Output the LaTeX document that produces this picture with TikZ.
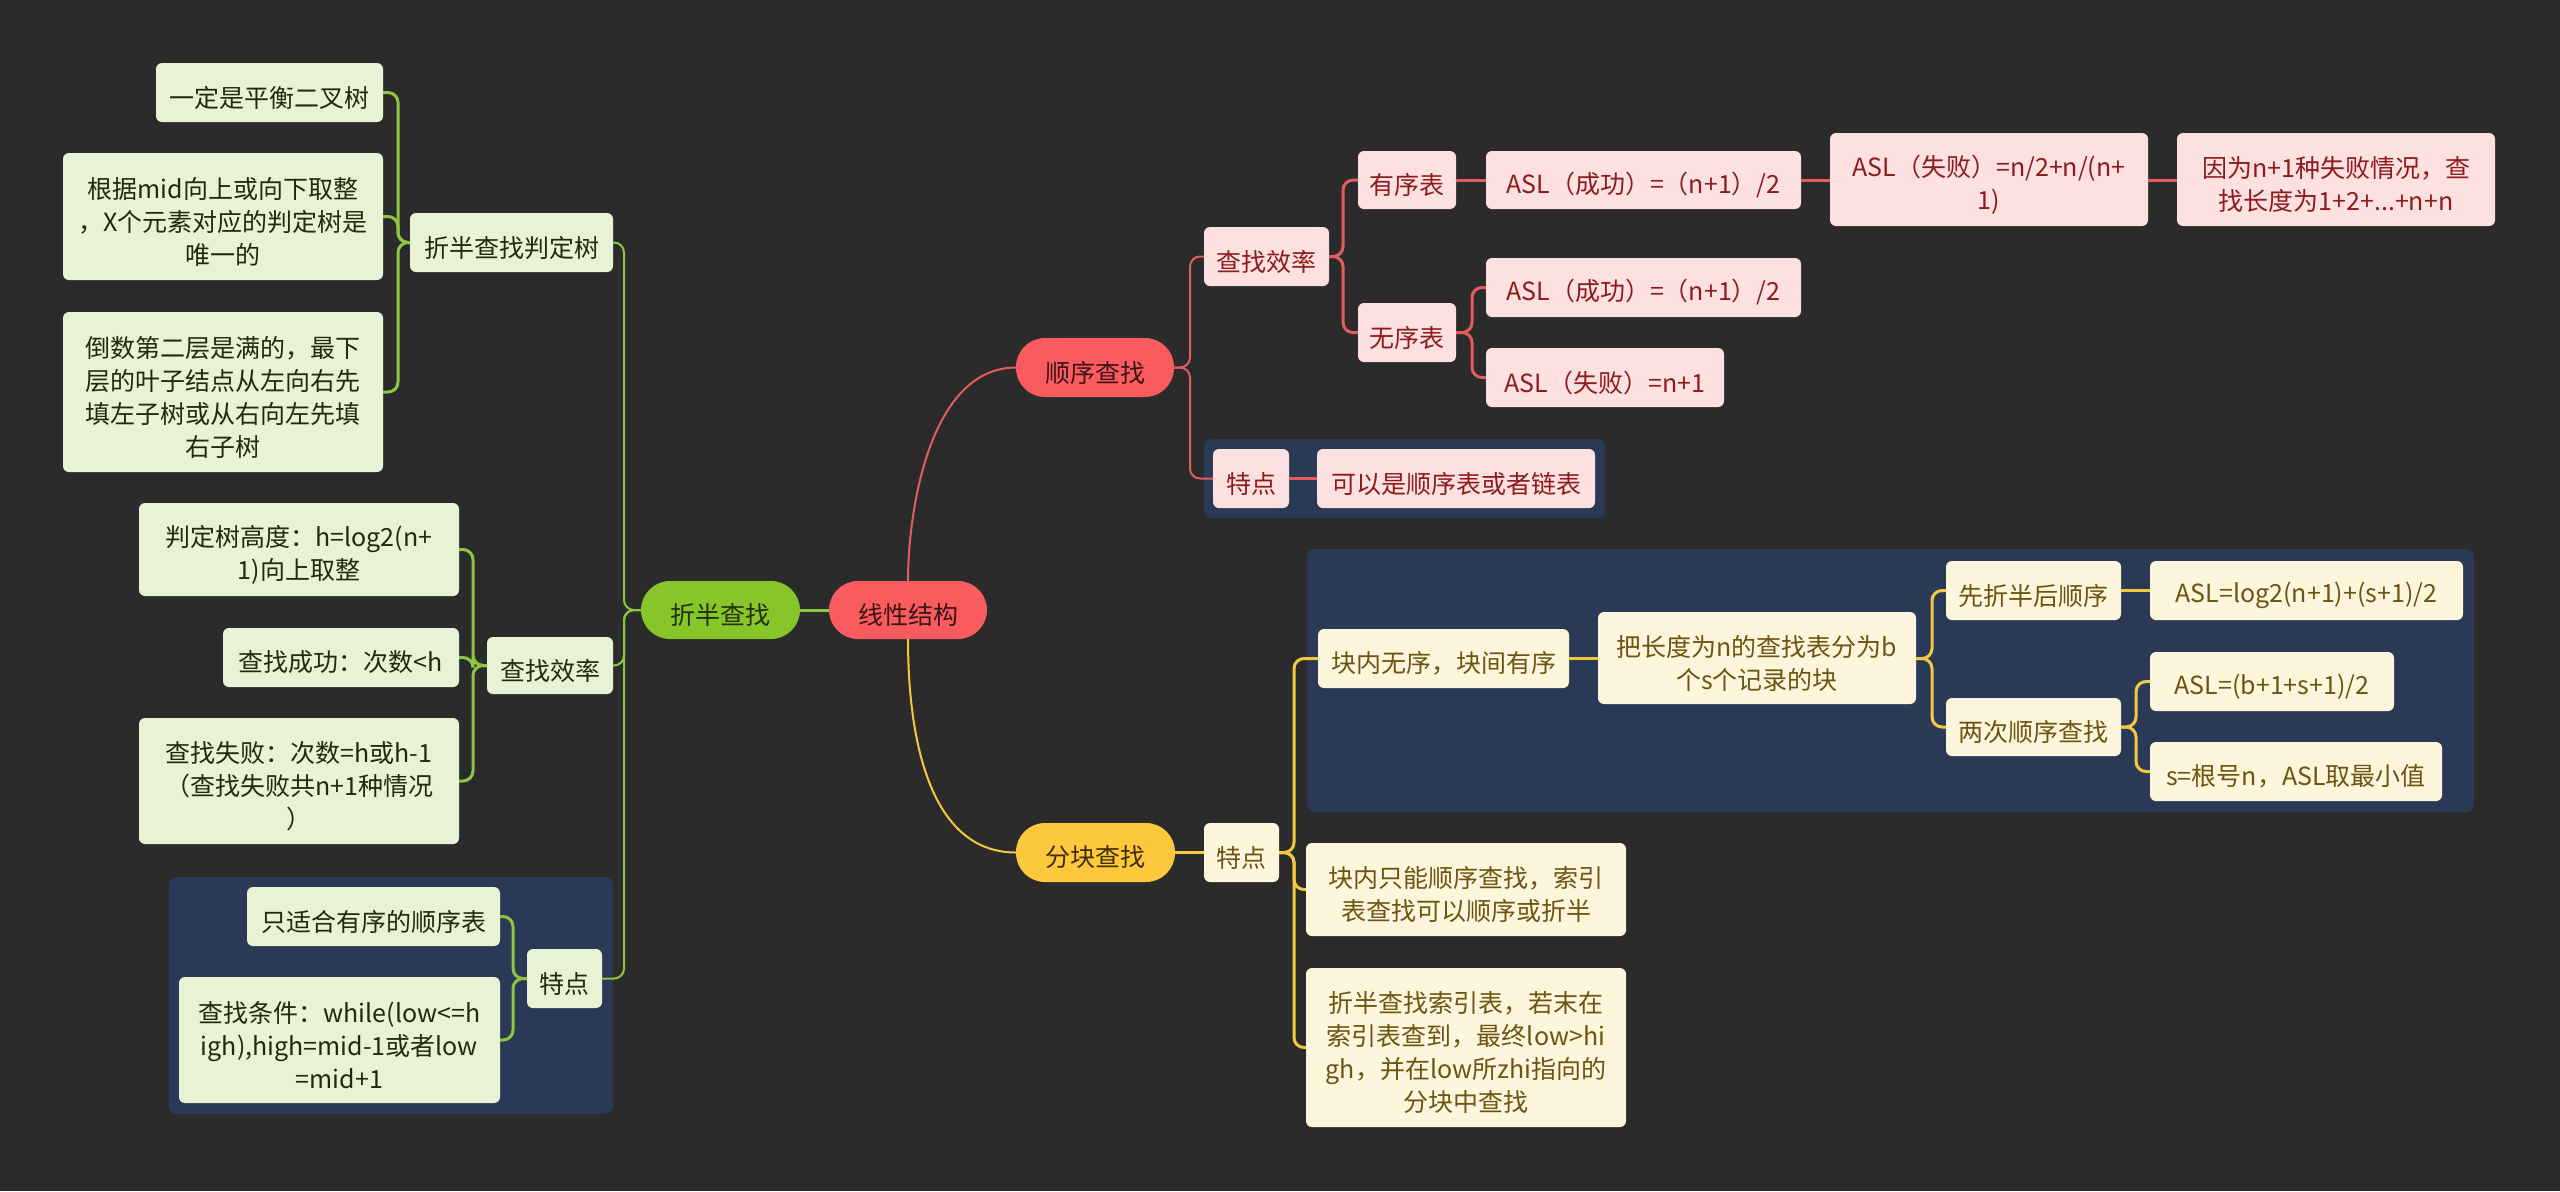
\documentclass[tikz,border=0pt]{standalone}
\usepackage{fontspec}
\setmainfont{Noto Sans CJK SC}
\usetikzlibrary{fit}
\definecolor{bg}{HTML}{2B2B2B}
\definecolor{navy}{HTML}{2A3A56}
\definecolor{redpill}{HTML}{FA5B5E}
\definecolor{redpilltxt}{HTML}{3D1414}
\definecolor{greenpill}{HTML}{86C62B}
\definecolor{greenpilltxt}{HTML}{22310A}
\definecolor{yellowpill}{HTML}{FDC83C}
\definecolor{yellowpilltxt}{HTML}{3D2E08}
\definecolor{pinkbox}{HTML}{FDE1E1}
\definecolor{redtxt}{HTML}{8E1B1B}
\definecolor{greenbox}{HTML}{E8F3D6}
\definecolor{greentxt}{HTML}{1E2B0E}
\definecolor{creambox}{HTML}{FEF6DC}
\definecolor{yellowtxt}{HTML}{6C5411}
\definecolor{redline}{HTML}{E45C5C}
\definecolor{greenline}{HTML}{8DC63F}
\definecolor{yellowline}{HTML}{F5C842}
\newcommand\fs{\fontsize{12.5pt}{16.5pt}\selectfont}
\tikzset{
  bx/.style={rounded corners=3pt, inner sep=0pt, outer sep=0pt, align=center, font=\fs},
  rb/.style={bx, fill=pinkbox, text=redtxt},
  gb/.style={bx, fill=greenbox, text=greentxt},
  yb/.style={bx, fill=creambox, text=yellowtxt},
  rp/.style={bx, rounded corners=14.5pt, fill=redpill, text=redpilltxt},
  gp/.style={bx, rounded corners=14.5pt, fill=greenpill, text=greenpilltxt},
  yp/.style={bx, rounded corners=14.5pt, fill=yellowpill, text=yellowpilltxt},
  txt/.style={fill=none, draw=none},
  grp/.style={fill=navy, rounded corners=4pt},
  rl/.style={draw=redline, line width=1.5pt, rounded corners=5pt},
  gl/.style={draw=greenline, line width=1.5pt, rounded corners=5pt},
  yl/.style={draw=yellowline, line width=1.5pt, rounded corners=5pt},
}
% style, name, corner, corner, text
\newcommand\mmbox[5]{%
  \node[#1, fit={#3 #4}] (#2) {};
  \node[#1, txt] (#2t) at ([yshift=-2.5pt]#2.center) {#5};}
\begin{document}
\begin{tikzpicture}[x=0.5pt,y=-0.5pt]
\fill[bg] (0,0) rectangle (2560,1191);
\useasboundingbox (0,0) rectangle (2560,1191);

% groups
\fill[grp] (169,877) rectangle (613,1114);
\fill[grp] (1204,439) rectangle (1605,518);
\fill[grp] (1307,549) rectangle (2474,812);

% central nodes
\mmbox{rp}{root}{(829,581)}{(987,639)}{线性结构}
\mmbox{gp}{zb}{(641,581)}{(800,639)}{折半查找}
\mmbox{rp}{sx}{(1016,338)}{(1174,397)}{顺序查找}
\mmbox{yp}{fk}{(1016,823)}{(1175,882)}{分块查找}

% left (green)
\mmbox{gb}{pd}{(410,213)}{(613,272)}{折半查找判定树}
\mmbox{gb}{pd1}{(156,63)}{(383,122)}{一定是平衡二叉树}
\mmbox{gb}{pd2}{(63,153)}{(383,280)}{根据mid向上或向下取整\\，X个元素对应的判定树是\\唯一的}
\mmbox{gb}{pd3}{(63,312)}{(383,472)}{倒数第二层是满的，最下\\层的叶子结点从左向右先\\填左子树或从右向左先填\\右子树}
\mmbox{gb}{lx}{(487,637)}{(613,694)}{查找效率}
\mmbox{gb}{lx1}{(139,503)}{(459,596)}{判定树高度：h=log2(n+\\1)向上取整}
\mmbox{gb}{lx2}{(223,628)}{(459,687)}{查找成功：次数<h}
\mmbox{gb}{lx3}{(139,718)}{(459,844)}{查找失败：次数=h或h-1\\（查找失败共n+1种情况\\）}
\mmbox{gb}{lt}{(527,949)}{(602,1008)}{特点}
\mmbox{gb}{lt1}{(247,887)}{(500,946)}{只适合有序的顺序表}
\mmbox{gb}{lt2}{(179,977)}{(500,1103)}{查找条件：while(low<=h\\igh),high=mid-1或者low\\=mid+1}

% right (red)
\mmbox{rb}{rx}{(1204,227)}{(1329,286)}{查找效率}
\mmbox{rb}{yx}{(1358,151)}{(1456,209)}{有序表}
\mmbox{rb}{yx1}{(1486,151)}{(1801,209)}{ASL（成功）=（n+1）/2}
\mmbox{rb}{yx2}{(1830,133)}{(2148,226)}{ASL（失败）=n/2+n/(n+\\1)}
\mmbox{rb}{yx3}{(2177,133)}{(2495,226)}{因为n+1种失败情况，查\\找长度为1+2+...+n+n}
\mmbox{rb}{wx}{(1358,303)}{(1456,362)}{无序表}
\mmbox{rb}{wx1}{(1486,258)}{(1801,317)}{ASL（成功）=（n+1）/2}
\mmbox{rb}{wx2}{(1486,348)}{(1724,407)}{ASL（失败）=n+1}
\mmbox{rb}{rt}{(1213,449)}{(1289,508)}{特点}
\mmbox{rb}{rt1}{(1317,449)}{(1595,508)}{可以是顺序表或者链表}

% right (yellow)
\mmbox{yb}{ft}{(1204,823)}{(1279,882)}{特点}
\mmbox{yb}{f1}{(1318,629)}{(1569,688)}{块内无序，块间有序}
\mmbox{yb}{f11}{(1598,612)}{(1916,704)}{把长度为n的查找表分为b\\个s个记录的块}
\mmbox{yb}{f111}{(1946,561)}{(2121,620)}{先折半后顺序}
\mmbox{yb}{f1111}{(2150,561)}{(2463,620)}{ASL=log2(n+1)+(s+1)/2}
\mmbox{yb}{f112}{(1946,698)}{(2121,756)}{两次顺序查找}
\mmbox{yb}{f1121}{(2150,652)}{(2394,711)}{ASL=(b+1+s+1)/2}
\mmbox{yb}{f1122}{(2150,742)}{(2442,801)}{s=根号n，ASL取最小值}
\mmbox{yb}{f2}{(1306,843)}{(1626,936)}{块内只能顺序查找，索引\\表查找可以顺序或折半}
\mmbox{yb}{f3}{(1306,968)}{(1626,1127)}{折半查找索引表，若末在\\索引表查到，最终low>hi\\gh，并在low所zhi指向的\\分块中查找}

% connectors
\draw[redline, line width=1pt] (root.north) .. controls (908,510) and (930,367.5) .. (sx.west);
\draw[yellowline, line width=1pt] (root.south) .. controls (908,740) and (930,852.5) .. (fk.west);
\draw[gl] (root.west) -- (zb.east);

\draw[gl, line width=1pt] (zb.west) -- (624,610) |- (pd.east);
\draw[gl, line width=1pt] (zb.west) -- (624,610) |- (lx.east);
\draw[gl, line width=1pt] (zb.west) -- (624,610) |- (lt.east);
\draw[gl] (pd.west) -- (398,242.5) |- (pd1.east);
\draw[gl] (pd.west) -- (398,242.5) |- (pd2.east);
\draw[gl] (pd.west) -- (398,242.5) |- (pd3.east);
\draw[gl] (lx.west) -- (473,665.5) |- (lx1.east);
\draw[gl] (lx.west) -- (473,665.5) |- (lx2.east);
\draw[gl] (lx.west) -- (473,665.5) |- (lx3.east);
\draw[gl] (lt.west) -- (513,978.5) |- (lt1.east);
\draw[gl] (lt.west) -- (513,978.5) |- (lt2.east);

\draw[rl, line width=1pt] (sx.east) -- (1190,367.5) |- (rx.west);
\draw[rl, line width=1pt] (sx.east) -- (1190,367.5) |- (rt.west);
\draw[rl] (rx.east) -- (1343,256.5) |- (yx.west);
\draw[rl] (rx.east) -- (1343,256.5) |- (wx.west);
\draw[rl] (yx.east) -- (yx1.west);
\draw[rl] (yx1.east) -- (yx2.west |- yx1.west);
\draw[rl] (yx2.east |- yx1.east) -- (yx3.west |- yx1.east);
\draw[rl] (wx.east) -- (1472,332.5) |- (wx1.west);
\draw[rl] (wx.east) -- (1472,332.5) |- (wx2.west);
\draw[rl] (rt.east) -- (rt1.west);

\draw[yl] (fk.east) -- (ft.west);
\draw[yl] (ft.east) -- (1294,852.5) |- (f1.west);
\draw[yl] (ft.east) -- (1294,852.5) |- (f2.west);
\draw[yl] (ft.east) -- (1294,852.5) |- (f3.west);
\draw[yl] (f1.east) -- (f11.west |- f1.east);
\draw[yl] (f11.east |- f1.east) -- (1932,658.5) |- (f111.west);
\draw[yl] (f11.east |- f1.east) -- (1932,658.5) |- (f112.west);
\draw[yl] (f111.east) -- (f1111.west);
\draw[yl] (f112.east) -- (2136,727) |- (f1121.west);
\draw[yl] (f112.east) -- (2136,727) |- (f1122.west);
\end{tikzpicture}
\end{document}
